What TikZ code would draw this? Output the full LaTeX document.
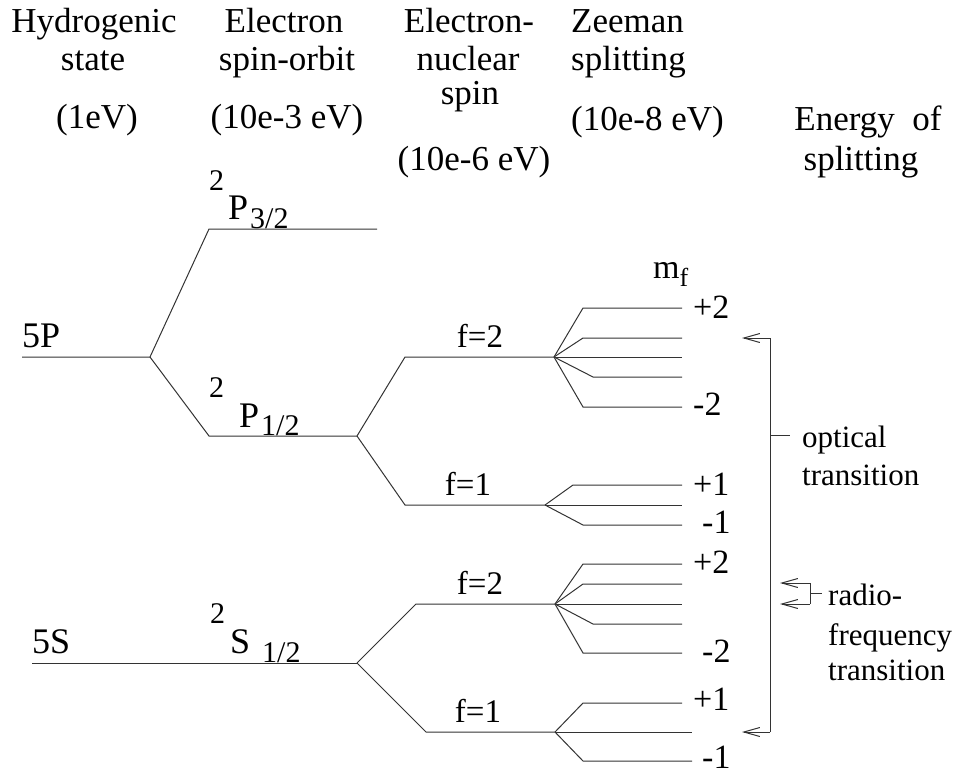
\documentclass[tikz,border=0pt]{standalone}
\usepackage{fontspec}
\setmainfont{Liberation Serif}
\usetikzlibrary{arrows.meta}
\begin{document}
\begin{tikzpicture}[x=1pt,y=-1pt,
  lvl/.style={draw=black!80,line width=1pt},
  hdr/.style={font=\fontsize{35}{42}\selectfont,inner sep=0pt,anchor=base},
  hdrw/.style={hdr,anchor=base west},
  big/.style={font=\fontsize{36}{42}\selectfont,inner sep=0pt,anchor=base west},
  sml/.style={font=\fontsize{30}{36}\selectfont,inner sep=0pt,anchor=base west},
  flab/.style={font=\fontsize{33}{38}\selectfont,inner sep=0pt,anchor=base},
  mlab/.style={font=\fontsize{34}{40}\selectfont,inner sep=0pt,anchor=base west},
  note/.style={font=\fontsize{31}{37}\selectfont,inner sep=0pt,anchor=base west},
  arr/.style={lvl,-{Straight Barb[length=16pt,width=9pt]}}
]
\useasboundingbox (0,0) rectangle (956,774);

% headers
\node[hdr] (h1a) at (94,32) {Hydrogenic};
\node[hdr] (h1b) at (93,70) {state};
\node[hdr] (h1c) at (97,128) {(1eV)};
\node[hdr] (h2a) at (284,32) {Electron};
\node[hdr] (h2b) at (287,70) {spin-orbit};
\node[hdr] (h2c) at (287,128) {(10e-3 eV)};
\node[hdr] (h3a) at (469,32) {Electron-};
\node[hdr] (h3b) at (468,70) {nuclear};
\node[hdr] (h3c) at (470,104) {spin};
\node[hdr] (h3d) at (474,170) {(10e-6 eV)};
\node[hdrw] (h4a) at (571,32) {Zeeman};
\node[hdrw] (h4b) at (571,70) {splitting};
\node[hdrw] (h4c) at (571,130) {(10e-8 eV)};
\node[hdr] (h5a) at (868,130) {Energy\ \ of};
\node[hdr] (h5b) at (861,170) {splitting};

% 5P group coordinates
\coordinate (p5L) at (22,357);
\coordinate (p5V) at (150,357);
\coordinate (p32a) at (209,229);
\coordinate (p32b) at (377,229);
\coordinate (p12a) at (209,436);
\coordinate (p12V) at (357,436);
\coordinate (pf2a) at (405,357);
\coordinate (pf2V) at (554,357);
\coordinate (pf1a) at (405,505);
\coordinate (pf1V) at (545,505);
% upper f=2 fan
\coordinate (u2a) at (583,308); \coordinate (u2ae) at (682,308);
\coordinate (u2b) at (583,338); \coordinate (u2be) at (682,338);
\coordinate (u2ce) at (682,357);
\coordinate (u2d) at (593,377); \coordinate (u2de) at (682,377);
\coordinate (u2e) at (583,407); \coordinate (u2ee) at (682,407);
% upper f=1 fan
\coordinate (u1a) at (573,485); \coordinate (u1ae) at (682,485);
\coordinate (u1be) at (682,505);
\coordinate (u1c) at (583,525); \coordinate (u1ce) at (682,525);

\draw[lvl] (p5L) -- (p5V) -- (p32a) -- (p32b);
\draw[lvl] (p5V) -- (p12a) -- (p12V);
\draw[lvl] (p12V) -- (pf2a) -- (pf2V);
\draw[lvl] (p12V) -- (pf1a) -- (pf1V);
\draw[lvl] (pf2V) -- (u2a) -- (u2ae);
\draw[lvl] (pf2V) -- (u2b) -- (u2be);
\draw[lvl] (pf2V) -- (u2ce);
\draw[lvl] (pf2V) -- (u2d) -- (u2de);
\draw[lvl] (pf2V) -- (u2e) -- (u2ee);
\draw[lvl] (pf1V) -- (u1a) -- (u1ae);
\draw[lvl] (pf1V) -- (u1be);
\draw[lvl] (pf1V) -- (u1c) -- (u1ce);

% 5S group
\coordinate (s5L) at (32,663);
\coordinate (s5V) at (357,663);
\coordinate (sf2a) at (416,604);
\coordinate (sf2V) at (555,604);
\coordinate (sf1a) at (426,732);
\coordinate (sf1V) at (555,732);
\coordinate (l2a) at (583,564); \coordinate (l2ae) at (682,564);
\coordinate (l2b) at (583,584); \coordinate (l2be) at (682,584);
\coordinate (l2ce) at (682,604);
\coordinate (l2d) at (593,624); \coordinate (l2de) at (682,624);
\coordinate (l2e) at (583,653); \coordinate (l2ee) at (682,653);
\coordinate (l1a) at (583,703); \coordinate (l1ae) at (682,703);
\coordinate (l1be) at (692,732);
\coordinate (l1c) at (583,761); \coordinate (l1ce) at (692,761);

\draw[lvl] (s5L) -- (s5V);
\draw[lvl] (s5V) -- (sf2a) -- (sf2V);
\draw[lvl] (s5V) -- (sf1a) -- (sf1V);
\draw[lvl] (sf2V) -- (l2a) -- (l2ae);
\draw[lvl] (sf2V) -- (l2b) -- (l2be);
\draw[lvl] (sf2V) -- (l2ce);
\draw[lvl] (sf2V) -- (l2d) -- (l2de);
\draw[lvl] (sf2V) -- (l2e) -- (l2ee);
\draw[lvl] (sf1V) -- (l1a) -- (l1ae);
\draw[lvl] (sf1V) -- (l1be);
\draw[lvl] (sf1V) -- (l1c) -- (l1ce);

% level labels
\node[big] (t5P) at (22,347) {5P};
\node[sml] (tp32s) at (209,190) {2};
\node[big] (tp32) at (228,219) {P};
\node[sml] (tp32i) at (250,228) {3/2};
\node[sml] (tp12s) at (209,397) {2};
\node[big] (tp12) at (239,427) {P};
\node[sml] (tp12i) at (261,435) {1/2};
\node[big] (t5S) at (32,653) {5S};
\node[sml] (ts12s) at (210,623) {2};
\node[big] (ts12) at (230,653) {S};
\node[sml] (ts12i) at (262,662) {1/2};

\node[flab] (uf2) at (480,347) {f=2};
\node[flab] (uf1) at (468,495) {f=1};
\node[flab] (lf2) at (480,594) {f=2};
\node[flab] (lf1) at (478,722) {f=1};

% m_f labels
\node[mlab] (mf) at (653,278) {m\raisebox{-8pt}{\fontsize{26}{26}\selectfont f}};
\node[mlab] (m1) at (693,318) {+2};
\node[mlab] (m2) at (693,415) {-2};
\node[mlab] (m3) at (693,495) {+1};
\node[mlab] (m4) at (702,533) {-1};
\node[mlab] (m5) at (693,573) {+2};
\node[mlab] (m6) at (702,662) {-2};
\node[mlab] (m7) at (693,710) {+1};
\node[mlab] (m8) at (702,768) {-1};

% transitions
\coordinate (bt) at (770,338);
\coordinate (bb) at (770,732);
\coordinate (btip) at (742,338);
\coordinate (bbtip) at (742,732);
\coordinate (bm) at (770,435);
\coordinate (bmr) at (790,435);
\draw[lvl] (bt) -- (bb);
\draw[arr] (bt) -- (btip);
\draw[arr] (bb) -- (bbtip);
\draw[lvl] (bm) -- (bmr);
\node[note] (opt1) at (802,447) {optical};
\node[note] (opt2) at (802,485) {transition};

\coordinate (r1) at (810,583);
\coordinate (r1t) at (780,583);
\coordinate (r2) at (810,604);
\coordinate (r2t) at (780,604);
\coordinate (rm) at (810,593);
\coordinate (rmr) at (822,593);
\draw[lvl] (r1) -- (r2);
\draw[arr] (r1) -- (r1t);
\draw[arr] (r2) -- (r2t);
\draw[lvl] (rm) -- (rmr);
\node[note] (rf1) at (828,605) {radio-};
\node[note] (rf2) at (828,645) {frequency};
\node[note] (rf3) at (828,680) {transition};
\end{tikzpicture}
\end{document}
